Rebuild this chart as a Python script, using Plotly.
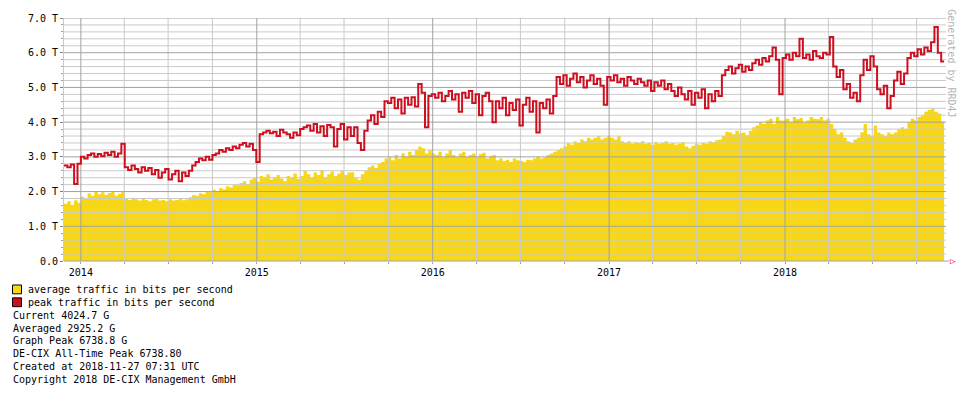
import pandas as pd
import plotly.graph_objects as go

# ---------------- data (values in T bit/s, weekly samples) ----------------
start_date = "2013-11-27"
end_date = "2018-11-27"

avg_traffic = [
    1.65, 1.72, 1.60, 1.75, 1.68,
    1.85, 1.80, 1.95, 1.88, 2.00,
    1.92, 1.98, 1.90, 1.96, 2.02, 1.88, 1.94, 2.00,
    1.80, 1.76, 1.82, 1.78, 1.74, 1.80, 1.76, 1.72, 1.78, 1.80,
    1.74, 1.76, 1.72, 1.78, 1.74, 1.76, 1.80, 1.75, 1.78,
    1.84, 1.90, 1.88, 1.95, 1.92, 2.00, 1.98, 2.05, 2.02, 2.10,
    2.06, 2.15, 2.12, 2.20, 2.18, 2.25, 2.30, 2.22, 2.35, 2.40, 2.28,
    2.45, 2.40, 2.50, 2.35, 2.42, 2.48, 2.38, 2.30, 2.45, 2.40, 2.52, 2.36,
    2.45, 2.60, 2.50, 2.42, 2.55, 2.48, 2.62, 2.40, 2.50, 2.58,
    2.45, 2.52, 2.60, 2.48, 2.55,
    2.56, 2.40, 2.34, 2.50, 2.60,
    2.70, 2.75, 2.68, 2.80, 2.85,
    2.95, 3.00, 2.90, 3.05, 2.95, 3.10, 3.00, 3.15, 3.05, 3.20, 3.30,
    3.25, 3.10, 3.20,
    3.10, 3.05, 3.15, 3.00, 3.10, 3.20, 3.05, 3.00, 3.10, 3.15,
    3.00, 3.05, 3.10, 3.00, 3.08, 3.12, 2.95, 3.02, 3.05,
    2.90, 2.95, 2.88, 2.92, 2.85, 2.95, 2.90, 2.88, 2.85, 2.92,
    2.90, 2.95, 3.00, 2.95, 2.98, 3.05, 3.10, 3.15,
    3.20, 3.25, 3.30, 3.40, 3.35, 3.45, 3.40, 3.50, 3.45, 3.55,
    3.50, 3.55, 3.60, 3.50, 3.55,
    3.60, 3.55, 3.50, 3.60, 3.45, 3.40, 3.45, 3.38, 3.42, 3.40,
    3.45, 3.38, 3.40, 3.35, 3.42, 3.38, 3.40, 3.45, 3.38,
    3.40, 3.35, 3.38, 3.42, 3.30, 3.25, 3.32, 3.38, 3.35, 3.40,
    3.38, 3.45, 3.42, 3.48, 3.50,
    3.60, 3.72, 3.70, 3.65, 3.75, 3.68, 3.70, 3.62, 3.75,
    3.85, 3.90, 4.00, 3.95, 4.05, 4.10, 3.95, 4.15, 4.05,
    4.05, 4.10, 4.00, 4.15, 4.08, 4.12, 4.00, 4.05, 4.15, 4.10,
    4.08, 4.15, 4.05, 4.10, 3.95,
    3.80, 3.65, 3.70, 3.55, 3.45, 3.40, 3.50, 3.55,
    3.70, 3.95, 3.65, 3.60, 3.90, 3.70, 3.65, 3.60, 3.70, 3.65,
    3.70, 3.80, 3.85, 3.80,
    4.00, 4.10, 4.05, 4.15, 4.20, 4.30, 4.35, 4.40, 4.30, 4.25, 4.02,
]

peak_traffic = [
    2.75, 2.70, 2.78, 2.22, 2.80,
    3.00, 2.95, 3.05, 3.10, 3.00, 3.08, 3.02, 3.12, 3.05, 3.15,
    3.00, 3.10, 3.38,
    2.70, 2.62, 2.75, 2.65, 2.55, 2.70, 2.60, 2.68, 2.50, 2.62,
    2.40, 2.55, 2.65, 2.35, 2.50, 2.60, 2.30, 2.55, 2.45,
    2.60, 2.75, 2.85, 2.95, 2.90, 3.00, 2.92, 3.05, 3.10, 3.20,
    3.15, 3.25, 3.20, 3.30, 3.25, 3.35, 3.40, 3.30, 3.38, 3.20, 2.85,
    3.65, 3.70, 3.75, 3.68, 3.72, 3.60, 3.78, 3.70, 3.65, 3.55, 3.70, 3.62,
    3.80, 3.85, 3.90, 3.75, 3.95, 3.70, 3.88, 3.60, 3.92, 3.85,
    3.30, 3.80, 3.95, 3.50, 3.85,
    3.60, 3.85, 3.40, 3.20, 3.75,
    4.05, 4.20, 3.95, 4.30, 4.15,
    4.60, 4.55, 4.70, 4.40, 4.65, 4.25, 4.70, 4.50, 4.72, 4.45, 5.10,
    4.85, 3.85, 4.75,
    4.80, 4.70, 4.85, 4.60, 4.75, 4.90, 4.65, 4.80, 4.30, 4.85,
    4.70, 4.90, 4.55, 4.80, 4.20, 4.75, 4.85, 4.60, 4.00,
    4.60, 4.40, 4.70, 4.20, 4.55, 4.35, 4.65, 3.90, 4.50, 4.70,
    4.30, 4.60, 3.70, 4.55, 4.40, 4.65, 4.25, 4.75,
    5.30, 5.10, 5.35, 5.05, 5.25, 5.40, 5.15, 5.30, 5.00, 5.20,
    5.35, 5.10, 5.25, 5.05, 4.50,
    5.30, 5.20, 5.35, 5.15, 5.25, 5.05, 5.30, 5.20, 5.10, 5.25,
    5.15, 5.05, 5.20, 4.90, 5.15, 5.05, 5.20, 4.95, 5.10,
    4.90, 4.75, 5.00, 4.80, 4.65, 4.90, 4.50, 4.85, 4.70, 4.95,
    4.40, 4.80, 4.60, 4.90, 4.75,
    5.35, 5.50, 5.60, 5.40, 5.55, 5.65, 5.45, 5.60, 5.50,
    5.70, 5.80, 5.65, 5.85, 5.75, 5.90, 6.15, 5.80, 4.80,
    5.85, 5.95, 5.80, 6.00, 5.90, 6.40, 5.85, 5.95, 5.80, 6.05,
    5.90, 5.85, 6.00, 5.95, 6.45,
    5.60, 5.30, 5.50, 4.95, 5.10, 4.70, 4.85, 4.60,
    5.35, 5.80, 5.50, 5.90, 5.60, 4.95, 4.80, 5.05, 4.40, 4.75,
    5.20, 5.45, 5.10, 5.40,
    5.85, 6.00, 5.90, 6.10, 5.95, 6.15, 6.05, 6.30, 6.74, 6.00, 5.75,
]

y_tick_vals = [0, 1, 2, 3, 4, 5, 6, 7]
y_tick_text = ["0.0", "1.0 T", "2.0 T", "3.0 T", "4.0 T", "5.0 T", "6.0 T", "7.0 T"]

legend_items = [
    ("average traffic in bits per second", "#F8D816"),
    ("peak traffic in bits per second", "#CC1020"),
]
info_lines = [
    "Current 4024.7 G",
    "Averaged 2925.2 G",
    "Graph Peak 6738.8 G",
    "DE-CIX All-Time Peak 6738.80",
    "Created at 2018-11-27 07:31 UTC",
    "Copyright 2018 DE-CIX Management GmbH",
]

# ---------------- build ----------------
YELLOW = "#F8D816"
RED = "#CC1020"
GRID_MINOR = "#CACACA"
GRID_MAJOR = "#A2A2A2"
FONT = "DejaVu Sans Mono"
X_RANGE = [pd.Timestamp("2013-11-27"), pd.Timestamp("2018-12-01")]
Y_RANGE = [0, 7]

dates = list(pd.date_range(start_date, periods=len(avg_traffic), freq="7D"))
x_edges = dates + [pd.Timestamp(end_date)]
avg_y = avg_traffic + [avg_traffic[-1]]
peak_y = peak_traffic + [peak_traffic[-1]]

W, H = 960, 395
L, R, T, B = 64, 946, 13, 261


def px(x):
    return (x - L) / (R - L)


def py(y):
    return (B - y) / (B - T)


fig = go.Figure()
# average area
fig.add_trace(go.Scatter(
    x=x_edges, y=avg_y, mode="lines", line=dict(width=0, shape="hv", color=YELLOW),
    fill="tozeroy", fillcolor=YELLOW, hoverinfo="skip", showlegend=False))

# grid drawn between the area and the peak line (as in rrd graphs)
minor_x, minor_y, major_x, major_y = [], [], [], []
for k in range(1, 36):
    v = round(k * 0.2, 6)
    tx, ty = (major_x, major_y) if k % 5 == 0 else (minor_x, minor_y)
    tx += [X_RANGE[0], X_RANGE[1], None]
    ty += [v, v, None]
for d in pd.date_range("2014-01-01", "2018-10-01", freq="QS"):
    tx, ty = (major_x, major_y) if d.month == 1 else (minor_x, minor_y)
    tx += [d, d, None]
    ty += [Y_RANGE[0], Y_RANGE[1], None]
fig.add_trace(go.Scatter(x=minor_x, y=minor_y, mode="lines",
                         line=dict(color=GRID_MINOR, width=1), hoverinfo="skip",
                         showlegend=False, connectgaps=False))
fig.add_trace(go.Scatter(x=major_x, y=major_y, mode="lines",
                         line=dict(color=GRID_MAJOR, width=1), hoverinfo="skip",
                         showlegend=False, connectgaps=False))

# peak line
fig.add_trace(go.Scatter(
    x=x_edges, y=peak_y, mode="lines", line=dict(width=2, shape="hv", color=RED),
    hoverinfo="skip", showlegend=False))

shapes = []
# extended x-axis line to arrow
shapes.append(dict(type="line", xref="paper", yref="paper", x0=0, x1=px(949), y0=0, y1=0,
                   line=dict(color=GRID_MAJOR, width=1), layer="above"))
# legend boxes
for i, (_, col) in enumerate(legend_items):
    yc = 290 + 13.1 * i
    shapes.append(dict(type="rect", xref="paper", yref="paper",
                       x0=px(12.5), x1=px(21.5), y0=py(yc - 4.5), y1=py(yc + 4.5),
                       fillcolor=col, line=dict(color="#000000", width=1)))

annotations = []
for i, (txt, _) in enumerate(legend_items):
    annotations.append(dict(text=txt, xref="paper", yref="paper", x=px(26), y=py(290 + 13.1 * i),
                            xanchor="left", yanchor="middle", showarrow=False,
                            font=dict(family=FONT, size=10, color="#000000")))
for j, txt in enumerate(info_lines):
    annotations.append(dict(text=txt, xref="paper", yref="paper", x=px(11), y=py(316.4 + 13.1 * j),
                            xanchor="left", yanchor="middle", showarrow=False,
                            font=dict(family=FONT, size=10, color="#000000")))
annotations.append(dict(text="Generated by RRD4J", xref="paper", yref="paper", x=px(952), y=py(2),
                        xanchor="center", yanchor="top", textangle=90, showarrow=False,
                        font=dict(family=FONT, size=10, color="#B4B4B4")))
annotations.append(dict(text="▷", xref="paper", yref="paper", x=px(948), y=py(261.5),
                        xanchor="left", yanchor="middle", showarrow=False,
                        font=dict(family=FONT, size=9, color="#FF0000")))

fig.update_layout(
    width=W, height=H,
    margin=dict(l=L, r=W - R, t=T, b=H - B, pad=0),
    paper_bgcolor="#FFFFFF", plot_bgcolor="#FFFFFF",
    showlegend=False,
    shapes=shapes, annotations=annotations,
    font=dict(family=FONT, size=10, color="#000000"),
    xaxis=dict(
        type="date", range=X_RANGE,
        tick0="2014-01-01", dtick="M12", tickformat="%Y",
        showgrid=False, zeroline=False,
        showline=False, ticks="outside", ticklen=2, tickcolor=GRID_MAJOR,
        minor=dict(dtick="M3", tick0="2014-01-01", ticks="outside", ticklen=2,
                   tickcolor=GRID_MAJOR, showgrid=False),
        tickfont=dict(family=FONT, size=10, color="#000000"),
        fixedrange=True,
    ),
    yaxis=dict(
        range=Y_RANGE, tickvals=y_tick_vals, ticktext=y_tick_text,
        showgrid=False, zeroline=False,
        showline=True, linecolor=GRID_MINOR, linewidth=1,
        ticks="outside", ticklen=3, tickcolor="#808080",
        minor=dict(dtick=0.2, tick0=0, ticks="outside", ticklen=2, tickcolor=GRID_MAJOR,
                   showgrid=False),
        tickfont=dict(family=FONT, size=10, color="#000000"),
        fixedrange=True,
    ),
)

fig.write_html("out.html")
